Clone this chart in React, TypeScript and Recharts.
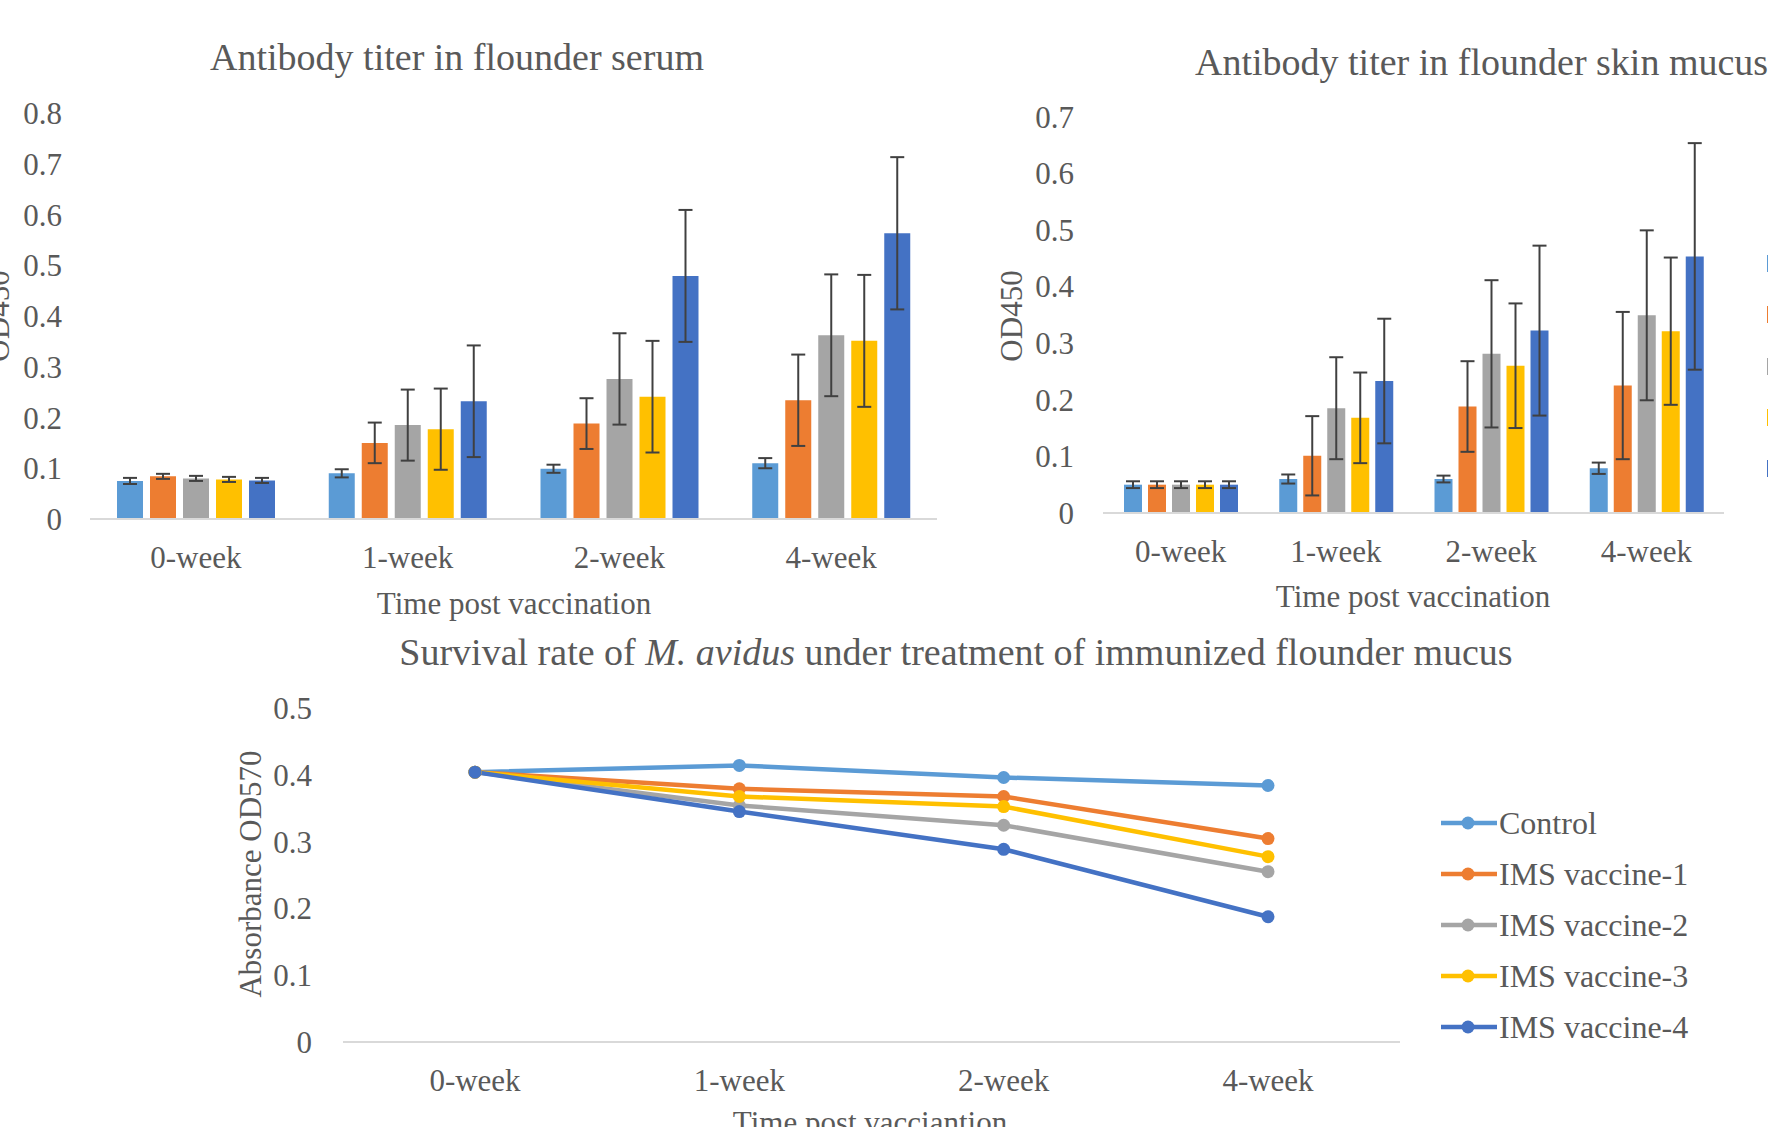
import React from 'react';
import { BarChart, Bar, ErrorBar, LineChart, Line, XAxis, YAxis, Legend } from 'recharts';

const weeks = ['0-week', '1-week', '2-week', '4-week'];
const groups = ['Control', 'IMS vaccine-1', 'IMS vaccine-2', 'IMS vaccine-3', 'IMS vaccine-4'];
const colors = ['#5B9BD5', '#ED7D31', '#A5A5A5', '#FFC000', '#4472C4'];

// one row per group, one value per week
const serumMean = [
  [0.075, 0.09, 0.099, 0.11],
  [0.084, 0.15, 0.188, 0.234],
  [0.08, 0.185, 0.276, 0.362],
  [0.078, 0.177, 0.241, 0.351],
  [0.076, 0.232, 0.479, 0.563],
];
const serumErr = [
  [0.006, 0.008, 0.008, 0.01],
  [0.005, 0.04, 0.05, 0.09],
  [0.005, 0.07, 0.09, 0.12],
  [0.005, 0.08, 0.11, 0.13],
  [0.005, 0.11, 0.13, 0.15],
];
const mucusMean = [
  [0.05, 0.06, 0.06, 0.079],
  [0.05, 0.101, 0.188, 0.225],
  [0.05, 0.185, 0.281, 0.349],
  [0.05, 0.168, 0.26, 0.321],
  [0.05, 0.233, 0.322, 0.453],
];
const mucusErr = [
  [0.006, 0.008, 0.006, 0.01],
  [0.006, 0.07, 0.08, 0.13],
  [0.006, 0.09, 0.13, 0.15],
  [0.006, 0.08, 0.11, 0.13],
  [0.006, 0.11, 0.15, 0.2],
];
const survival = [
  [0.404, 0.414, 0.396, 0.384],
  [0.404, 0.379, 0.3675, 0.3045],
  [0.404, 0.354, 0.3245, 0.255],
  [0.404, 0.3675, 0.3525, 0.2775],
  [0.404, 0.345, 0.2885, 0.1875],
];

const serumTicks = [0, 0.1, 0.2, 0.3, 0.4, 0.5, 0.6, 0.7, 0.8];
const mucusTicks = [0, 0.1, 0.2, 0.3, 0.4, 0.5, 0.6, 0.7];
const survivalTicks = [0, 0.1, 0.2, 0.3, 0.4, 0.5];

const FONT = '"Liberation Serif", "Times New Roman", serif';
const TEXT = '#595959';
const AXIS = '#D9D9D9';

const buildBars = (mean: number[][], err: number[][]) =>
  weeks.map((w, i) => {
    const row: any = { week: w };
    groups.forEach((_, j) => {
      row['m' + j] = mean[j][i];
      row['e' + j] = err[j][i];
    });
    return row;
  });

const serumData = buildBars(serumMean, serumErr);
const mucusData = buildBars(mucusMean, mucusErr);
const survivalData = weeks.map((w, i) => {
  const row: any = { week: w };
  groups.forEach((_, j) => (row['v' + j] = survival[j][i]));
  return row;
});

const tickStyle = { fontSize: 31, fill: TEXT, fontFamily: FONT };

function Txt({ x, y, size = 31, rotate = false, start = false, children }: any) {
  return (
    <div
      style={{
        position: 'absolute',
        left: x,
        top: y,
        transform: `translate(${start ? '0' : '-50%'}, -50%)${rotate ? ' rotate(-90deg)' : ''}`,
        fontSize: size,
        lineHeight: 1,
        whiteSpace: 'nowrap',
        color: TEXT,
        fontFamily: FONT,
      }}
    >
      {children}
    </div>
  );
}

const SquareLegend = ({ payload }: any) => (
  <div>
    {(payload || []).map((p: any) => (
      <div key={p.value} style={{ height: 51.3 }}>
        <div style={{ width: 17, height: 17, background: p.color }} />
      </div>
    ))}
  </div>
);

const LineLegend = ({ payload }: any) => (
  <div>
    {(payload || []).map((p: any) => (
      <div key={p.value} style={{ height: 51, display: 'flex', alignItems: 'center' }}>
        <svg width={56} height={16}>
          <line x1={0} y1={8} x2={56} y2={8} stroke={p.color} strokeWidth={4.5} />
          <circle cx={27} cy={8} r={6.5} fill={p.color} />
        </svg>
        <span style={{ marginLeft: 2, fontSize: 32, color: TEXT, fontFamily: FONT, lineHeight: 1 }}>{p.value}</span>
      </div>
    ))}
  </div>
);

export default function App() {
  return (
    <div
      style={{
        position: 'absolute',
        left: 0,
        top: 0,
        width: 1768,
        height: 1127,
        overflow: 'hidden',
        background: '#fff',
        fontFamily: FONT,
      }}
    >
      {/* serum */}
      <div style={{ position: 'absolute', left: 0, top: 0 }}>
        <BarChart
          width={960}
          height={620}
          data={serumData}
          margin={{ top: 113, right: 23, bottom: 41, left: 0 }}
          barSize={26}
          barGap={7}
        >
          <XAxis
            dataKey="week"
            interval={0}
            height={60}
            tickLine={false}
            tickSize={0}
            tickMargin={27}
            axisLine={{ stroke: AXIS, strokeWidth: 2 }}
            tick={tickStyle}
          />
          <YAxis
            width={90}
            domain={[0, 0.8]}
            ticks={serumTicks}
            axisLine={false}
            tickLine={false}
            tickSize={0}
            tickMargin={28}
            tick={tickStyle}
          />
          {groups.map((g, j) => (
            <Bar key={g} dataKey={'m' + j} name={g} fill={colors[j]} isAnimationActive={false}>
              <ErrorBar dataKey={'e' + j} width={7} stroke="#404040" strokeWidth={2} direction="y" />
            </Bar>
          ))}
        </BarChart>
      </div>
      <Txt x={457} y={57} size={38}>Antibody titer in flounder serum</Txt>
      <Txt x={-2} y={316} rotate>OD450</Txt>
      <Txt x={514} y={603}>Time post vaccination</Txt>

      {/* skin mucus */}
      <div style={{ position: 'absolute', left: 960, top: 0 }}>
        <BarChart
          width={808}
          height={620}
          data={mucusData}
          margin={{ top: 116.5, right: 44, bottom: 47, left: 0 }}
          barSize={18}
          barGap={6}
        >
          <XAxis
            dataKey="week"
            interval={0}
            height={60}
            tickLine={false}
            tickSize={0}
            tickMargin={27}
            axisLine={{ stroke: AXIS, strokeWidth: 2 }}
            tick={tickStyle}
          />
          <YAxis
            width={143}
            domain={[0, 0.7]}
            ticks={mucusTicks}
            axisLine={false}
            tickLine={false}
            tickSize={0}
            tickMargin={29}
            tick={tickStyle}
          />
          <Legend
            layout="horizontal"
            verticalAlign="middle"
            align="center"
            content={<SquareLegend />}
            wrapperStyle={{ left: 807, top: 255, width: 20 }}
          />
          {groups.map((g, j) => (
            <Bar key={g} dataKey={'m' + j} name={g} fill={colors[j]} isAnimationActive={false}>
              <ErrorBar dataKey={'e' + j} width={7} stroke="#404040" strokeWidth={2} direction="y" />
            </Bar>
          ))}
        </BarChart>
      </div>
      <Txt x={1195} y={62} size={38} start>Antibody titer in flounder skin mucus</Txt>
      <Txt x={1011} y={316} rotate>OD450</Txt>
      <Txt x={1413} y={596}>Time post vaccination</Txt>

      {/* survival */}
      <div style={{ position: 'absolute', left: 0, top: 640 }}>
        <LineChart
          width={1768}
          height={487}
          data={survivalData}
          margin={{ top: 68, right: 368, bottom: 25, left: 0 }}
        >
          <XAxis
            dataKey="week"
            interval={0}
            height={60}
            padding={{ left: 132, right: 132 }}
            tickLine={false}
            tickSize={0}
            tickMargin={27}
            axisLine={{ stroke: AXIS, strokeWidth: 2 }}
            tick={tickStyle}
          />
          <YAxis
            width={343}
            domain={[0, 0.5]}
            ticks={survivalTicks}
            axisLine={false}
            tickLine={false}
            tickSize={0}
            tickMargin={31}
            tick={tickStyle}
          />
          <Legend
            layout="horizontal"
            verticalAlign="middle"
            align="center"
            content={<LineLegend />}
            wrapperStyle={{ left: 1441, top: 157.5, width: 320 }}
          />
          {groups.map((g, j) => (
            <Line
              key={g}
              dataKey={'v' + j}
              name={g}
              stroke={colors[j]}
              strokeWidth={4.5}
              dot={{ r: 6.5, fill: colors[j], stroke: colors[j], strokeWidth: 0 }}
              isAnimationActive={false}
            />
          ))}
        </LineChart>
      </div>
      <Txt x={956} y={652} size={38}>
        Survival rate of <i>M. avidus</i> under treatment of immunized flounder mucus
      </Txt>
      <Txt x={250} y={874} rotate>Absorbance OD570</Txt>
      <Txt x={870} y={1122}>Time post vacciantion</Txt>
    </div>
  );
}
